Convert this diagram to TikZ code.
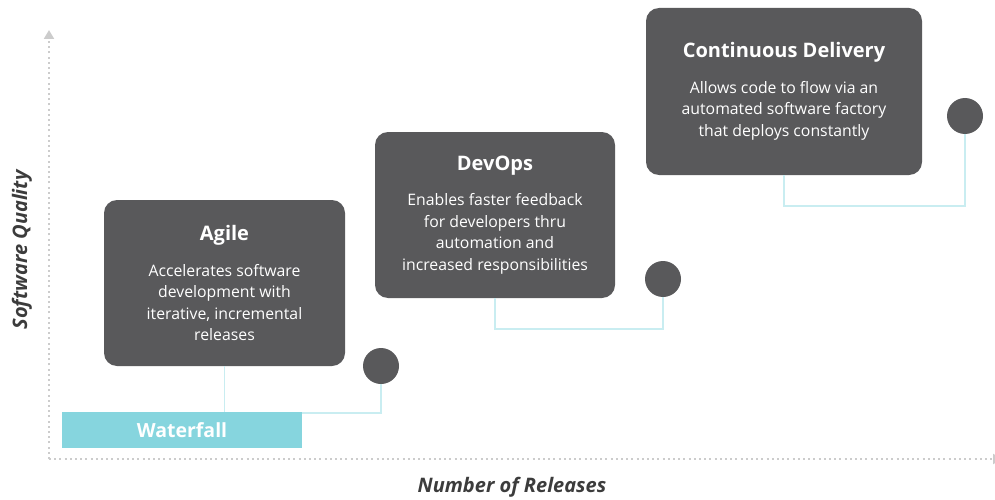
\documentclass[tikz,border=0pt]{standalone}
\usepackage{fontspec}
\setmainfont{Open Sans}
\usepackage{tikz}
\usetikzlibrary{positioning,calc,arrows.meta}
\definecolor{slate}{HTML}{59595B}
\definecolor{aqua}{HTML}{86D5DE}
\definecolor{paleaqua}{HTML}{C9EDF1}
\definecolor{axisgray}{HTML}{CCCCCC}
\definecolor{labelgray}{HTML}{3C3C3C}
\newcommand{\stagetitle}[1]{{\fontsize{20}{24}\selectfont\bfseries #1}\\[14pt]}

\begin{document}
\begin{tikzpicture}[x=1pt,y=-1pt,
                stage box/.style={rectangle,rounded corners=13pt,fill=slate,text=white,align=center,
                    font=\fontsize{15.8}{21.5}\selectfont},
                stage dot/.style={circle,fill=slate,minimum size=36pt,inner sep=0pt},
                link/.style={draw=paleaqua,line width=1.6pt},
                axis/.style={draw=axisgray,line width=2pt,dash pattern=on 2pt off 3.2pt,
                    -{Triangle[length=9pt,width=10pt,fill=axisgray]}},
                axis label/.style={text=labelgray,font=\fontsize{20}{24}\selectfont\bfseries\itshape}]
\useasboundingbox (0,0) rectangle (995,500);
%Axes
    \coordinate (origin) at (49,459);
    \coordinate (ytop) at (49,30);
    \coordinate (xend) at (1002,459);
    \draw[axis] (origin) -- (ytop);
    \draw[axis] (origin) -- (xend);
    \node[axis label, rotate=90] (ylab) at (22,250) {Software Quality};
    \node[axis label] (xlab) at (512,487) {Number of Releases};
%Nodes
    \node[stage box, minimum width=241pt, minimum height=166pt] (agile) at (224.5,283)
        {\stagetitle{Agile}Accelerates software\\development with\\iterative, incremental\\releases};
    \node[stage box, minimum width=240pt, minimum height=166pt] (devops) at (495,215)
        {\stagetitle{DevOps}Enables faster feedback\\for developers thru\\automation and\\increased responsibilities};
    \node[stage box, minimum width=276pt, minimum height=167pt] (cd) at (784,91.5)
        {\stagetitle{Continuous Delivery}Allows code to flow via an\\automated software factory\\that deploys constantly};
    \node[stage dot] (agiledot) at (381,366) {};
    \node[stage dot] (devopsdot) at (663,279) {};
    \node[stage dot] (cddot) at (965,116) {};
%Links
    \draw[link] (agile.south) -- ++(0,47) -| (agiledot.south);
    \draw[link] (devops.south) -- ++(0,31) -| (devopsdot.south);
    \draw[link] (cd.south) -- ++(0,31) -| (cddot.south);
    \node[fill=aqua, minimum width=240pt, minimum height=36pt, text=white,
          font=\fontsize{19.5}{22}\selectfont\bfseries] (waterfall) at (182,430) {Waterfall};
\end{tikzpicture}
\end{document}
